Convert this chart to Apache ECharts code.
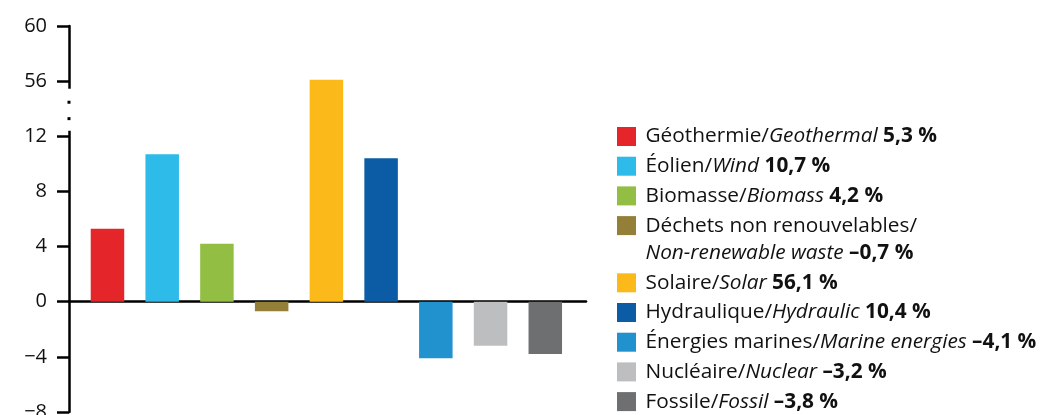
<!DOCTYPE html>
<html style="height: 100%">
<head>
    <meta charset="utf-8">
</head>
<body style="height: 100%; margin: 0; background: #fff">
<div id="container" style="width: 1041px; height: 415px"></div>
<script type="text/javascript" src="https://cdn.jsdelivr.net/npm/echarts@6.0.0/dist/echarts.min.js"></script>
<script type="text/javascript">
    // data
    var frNames = ['Géothermie', 'Éolien', 'Biomasse', 'Déchets non renouvelables', 'Solaire',
        'Hydraulique', 'Énergies marines', 'Nucléaire', 'Fossile'];
    var enNames = ['Geothermal', 'Wind', 'Biomass', 'Non-renewable waste', 'Solar',
        'Hydraulic', 'Marine energies', 'Nuclear', 'Fossil'];
    var values = [5.3, 10.7, 4.2, -0.7, 56.1, 10.4, -4.1, -3.2, -3.8];
    var colors = ['#e4262a', '#2ebbea', '#92be43', '#947f38', '#fbba19',
        '#0b5ca5', '#2292ce', '#bdbec0', '#6e6f71'];
    var yTicks = [-8, -4, 0, 4, 8, 12, 56, 60];

    // broken axis: everything above 12 is moved down by 40
    var breakLow = 12;
    var shift = 40;
    function disp(v) { return v > breakLow ? v - shift : v; }
    function real(v) { return v > breakLow ? v + shift : v; }

    var font = 'Open Sans';
    var fs = 20.8;
    var lh = 27.5;
    var dom = document.getElementById('container');
    var myChart = echarts.init(dom);

    function fmt(v) {
        return v.toFixed(1).replace('.', ',').replace('-', '–') + ' %';
    }

    var series = [];
    var legendData = [];
    for (var i = 0; i < frNames.length; i++) {
        series.push({
            name: frNames[i],
            type: 'bar',
            stack: 'all',
            barWidth: 33.5,
            itemStyle: {color: colors[i]},
            data: [[i, disp(values[i])]]
        });
        var full = frNames[i] + '/' + enNames[i] + ' ' + fmt(values[i]);
        var item = {name: frNames[i]};
        if (full.length > 45) {
            // two-line entry: push the text down so its first line sits by the square
            item.textStyle = {padding: [lh, 0, 0, 4.5]};
        }
        legendData.push(item);
    }

    option = {
        animation: false,
        grid: {left: 69, right: 455, top: 26, bottom: 3, outerBoundsMode: 'none'},
        xAxis: {
            type: 'value',
            min: -0.703,
            max: 8.744,
            axisLine: {show: true, onZero: true, lineStyle: {color: '#000', width: 2.5}},
            axisTick: {show: false},
            axisLabel: {show: false},
            splitLine: {show: false}
        },
        yAxis: {
            type: 'value',
            min: disp(yTicks[0]),
            max: disp(yTicks[yTicks.length - 1]),
            interval: 4,
            axisLine: {show: true, onZero: false, lineStyle: {color: '#000', width: 2.5}},
            axisTick: {show: true, length: 12, lineStyle: {color: '#000', width: 2.5}},
            axisLabel: {
                margin: 22,
                fontFamily: font,
                fontSize: 20,
                color: '#111',
                formatter: function (v) {
                    return String(real(v)).replace('-', '−');
                }
            },
            splitLine: {show: false}
        },
        legend: {
            orient: 'vertical',
            left: 617,
            top: 126,
            height: 300,
            padding: 0,
            itemWidth: 19,
            itemHeight: 19,
            itemGap: 8.7,
            icon: 'rect',
            selectedMode: false,
            data: legendData,
            textStyle: {
                padding: [0, 0, 0, 4.5],
                fontFamily: font,
                fontSize: fs,
                color: '#111',
                rich: {
                    n: {fontFamily: font, fontSize: fs, color: '#111', lineHeight: lh},
                    i: {fontFamily: font, fontSize: fs, color: '#111', fontStyle: 'italic', lineHeight: lh},
                    b: {fontFamily: font, fontSize: fs, color: '#111', fontWeight: 'bold', lineHeight: lh}
                }
            },
            formatter: function (name) {
                var k = frNames.indexOf(name);
                var full = frNames[k] + '/' + enNames[k] + ' ' + fmt(values[k]);
                var sep = full.length > 45 ? '/}\n{i|' : '/}{i|';
                return '{n|' + frNames[k] + sep + enNames[k] + '} {b|' + fmt(values[k]) + '}';
            }
        },
        series: series
    };
    myChart.setOption(option);

    // gap and dots on the y axis line where it is broken
    var ax = myChart.convertToPixel({xAxisIndex: 0}, -0.703);
    var gTop = myChart.convertToPixel({yAxisIndex: 0}, 15.45);
    var gBot = myChart.convertToPixel({yAxisIndex: 0}, 12.4);
    var d1 = myChart.convertToPixel({yAxisIndex: 0}, 14.47);
    var d2 = myChart.convertToPixel({yAxisIndex: 0}, 13.28);
    myChart.setOption({
        graphic: [
            {type: 'rect', shape: {x: ax - 3, y: gTop, width: 6, height: gBot - gTop}, style: {fill: '#fff'}, z: 100},
            {type: 'rect', shape: {x: ax - 1.5, y: d1 - 1.5, width: 3, height: 3}, style: {fill: '#000'}, z: 101},
            {type: 'rect', shape: {x: ax - 1.5, y: d2 - 1.5, width: 3, height: 3}, style: {fill: '#000'}, z: 101}
        ]
    });
</script>
</body>
</html>
